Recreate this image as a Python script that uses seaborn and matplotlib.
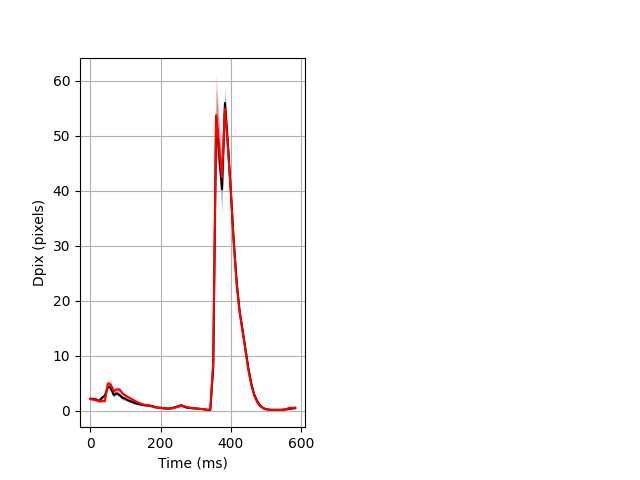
"""Mean pixel displacement over time for two conditions, with SEM bands."""

import matplotlib
import numpy as np
import seaborn as sns

matplotlib.use("Agg")
import matplotlib.pyplot as plt

TIME_MS = [
    0.0, 8.3, 16.7, 25.0, 33.3, 41.7, 50.0, 58.3, 66.7, 75.0,
    83.3, 91.7, 100.0, 108.3, 116.7, 125.0, 133.3, 141.7, 150.0, 158.3,
    166.7, 175.0, 183.3, 191.7, 200.0, 208.3, 216.7, 225.0, 233.3, 241.7,
    250.0, 258.3, 266.7, 275.0, 283.3, 291.7, 300.0, 308.3, 316.7, 325.0,
    333.3, 341.7, 350.0, 358.3, 366.7, 375.0, 383.3, 391.7, 400.0, 408.3,
    416.7, 425.0, 433.3, 441.7, 450.0, 458.3, 466.7, 475.0, 483.3, 491.7,
    500.0, 508.3, 516.7, 525.0, 533.3, 541.7, 550.0, 558.3, 566.7, 575.0,
    583.3,
]

BLACK_MEAN = [
    2.2, 2.2, 2.1, 1.8, 2.4, 2.8, 4.4, 4.2, 2.9, 3.2,
    2.9, 2.4, 2.2, 1.9, 1.7, 1.5, 1.3, 1.2, 1.1, 1.0,
    1.0, 0.9, 0.75, 0.6, 0.6, 0.5, 0.45, 0.45, 0.55, 0.7,
    0.85, 1.05, 0.8, 0.6, 0.55, 0.5, 0.45, 0.4, 0.35, 0.3,
    0.2, 0.2, 8.0, 53.5, 47.0, 40.3, 56.0, 48.5, 40.0, 31.0,
    23.5, 18.2, 14.8, 11.3, 7.8, 5.0, 3.0, 1.8, 1.0, 0.55,
    0.35, 0.25, 0.2, 0.2, 0.2, 0.2, 0.25, 0.3, 0.4, 0.45,
    0.55,
]

BLACK_SEM = [
    0.3, 0.3, 0.3, 0.3, 0.4, 0.5, 0.6, 0.5, 0.5, 0.4,
    0.4, 0.4, 0.3, 0.3, 0.3, 0.3, 0.2, 0.2, 0.2, 0.2,
    0.2, 0.2, 0.2, 0.15, 0.15, 0.15, 0.15, 0.15, 0.15, 0.15,
    0.2, 0.2, 0.2, 0.15, 0.15, 0.15, 0.15, 0.1, 0.1, 0.1,
    0.1, 0.1, 1.5, 5.0, 4.0, 4.3, 2.8, 2.0, 1.5, 1.0,
    0.8, 0.6, 0.5, 0.4, 0.3, 0.3, 0.2, 0.2, 0.15, 0.1,
    0.1, 0.1, 0.1, 0.1, 0.1, 0.1, 0.1, 0.15, 0.2, 0.2,
    0.2,
]

RED_MEAN = [
    2.2, 2.1, 2.0, 1.8, 1.8, 1.8, 5.0, 4.8, 3.6, 3.9,
    3.9, 3.2, 2.8, 2.5, 2.2, 1.9, 1.6, 1.4, 1.2, 1.1,
    1.0, 0.85, 0.7, 0.6, 0.55, 0.5, 0.45, 0.4, 0.5, 0.6,
    0.8, 1.0, 0.9, 0.7, 0.6, 0.55, 0.5, 0.4, 0.35, 0.3,
    0.2, 0.3, 9.0, 53.8, 48.0, 42.5, 55.0, 48.0, 40.0, 30.5,
    23.0, 18.0, 14.5, 11.0, 7.4, 4.7, 2.8, 1.6, 0.9, 0.5,
    0.3, 0.2, 0.2, 0.2, 0.2, 0.2, 0.2, 0.35, 0.6, 0.55,
    0.6,
]

RED_SEM = [
    0.3, 0.3, 0.3, 0.3, 0.3, 0.3, 0.7, 0.6, 0.5, 0.5,
    0.4, 0.4, 0.3, 0.3, 0.3, 0.3, 0.2, 0.2, 0.2, 0.2,
    0.2, 0.2, 0.2, 0.15, 0.15, 0.15, 0.15, 0.15, 0.15, 0.15,
    0.2, 0.2, 0.2, 0.15, 0.15, 0.15, 0.15, 0.1, 0.1, 0.1,
    0.1, 0.1, 1.5, 7.4, 5.0, 2.5, 2.0, 1.5, 1.2, 0.8,
    0.6, 0.5, 0.4, 0.3, 0.3, 0.2, 0.2, 0.15, 0.1, 0.1,
    0.1, 0.1, 0.1, 0.1, 0.1, 0.1, 0.1, 0.15, 0.2, 0.2,
    0.2,
]


def plot_condition(ax, mean, sem, color, band_alpha):
    """Draw a mean trace and its +/- SEM band."""
    t = np.asarray(TIME_MS)
    m = np.asarray(mean)
    s = np.asarray(sem)
    ax.fill_between(t, m - s, m + s, color=color, alpha=band_alpha, linewidth=0)
    sns.lineplot(x=t, y=m, color=color, linewidth=1.5, ax=ax)


def main() -> None:
    fig = plt.figure(figsize=(6.4, 4.8), dpi=100)
    ax = fig.add_subplot(1, 2, 1)

    plot_condition(ax, BLACK_MEAN, BLACK_SEM, "k", 0.25)
    plot_condition(ax, RED_MEAN, RED_SEM, "r", 0.3)

    ax.set_xticks([0, 200, 400, 600])
    ax.set_xlabel("Time (ms)")
    ax.set_ylabel("Dpix (pixels)")
    ax.grid(True)

    fig.savefig("out.png", dpi=100)
    plt.close(fig)


if __name__ == "__main__":
    main()
